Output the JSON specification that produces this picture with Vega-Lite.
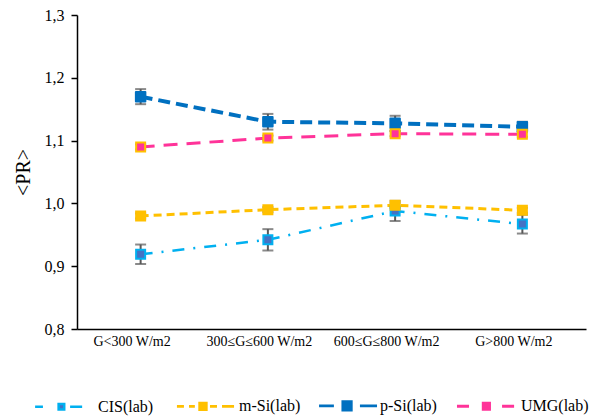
{
  "$schema": "https://vega.github.io/schema/vega-lite/v6.json",
  "width": 509,
  "height": 314,
  "autosize": {"type": "none"},
  "padding": {"left": 77, "top": 15, "right": 12, "bottom": 90},
  "background": "white",
  "config": {
    "view": {"stroke": null},
    "font": "Liberation Serif",
    "legend": {
      "orient": "none",
      "direction": "horizontal",
      "legendX": -42,
      "legendY": 361,
      "padding": 0,
      "gridAlign": "all",
      "columnPadding": 2,
      "labelFont": "Liberation Serif",
      "labelFontSize": 16,
      "labelColor": "#000000",
      "labelOffset": 4,
      "labelLimit": 200,
      "symbolSize": 3136,
      "symbolOpacity": 1,
      "symbolStrokeWidth": 3
    }
  },
  "data": {
    "values": [
      {"series": "CIS(lab)", "g": "G<300 W/m2", "pr": 0.919, "lo": 0.9035, "hi": 0.9345},
      {"series": "CIS(lab)", "g": "300≤G≤600  W/m2", "pr": 0.942, "lo": 0.925, "hi": 0.959},
      {"series": "CIS(lab)", "g": "600≤G≤800  W/m2", "pr": 0.988, "lo": 0.972, "hi": 1.004},
      {"series": "CIS(lab)", "g": "G>800 W/m2", "pr": 0.967, "lo": 0.952, "hi": 0.982},
      {"series": "m-Si(lab)", "g": "G<300 W/m2", "pr": 0.980, "lo": 0.976, "hi": 0.984},
      {"series": "m-Si(lab)", "g": "300≤G≤600  W/m2", "pr": 0.990, "lo": 0.986, "hi": 0.994},
      {"series": "m-Si(lab)", "g": "600≤G≤800  W/m2", "pr": 0.997, "lo": 0.993, "hi": 1.001},
      {"series": "m-Si(lab)", "g": "G>800 W/m2", "pr": 0.989, "lo": 0.985, "hi": 0.993},
      {"series": "p-Si(lab)", "g": "G<300 W/m2", "pr": 1.170, "lo": 1.158, "hi": 1.182},
      {"series": "p-Si(lab)", "g": "300≤G≤600  W/m2", "pr": 1.130, "lo": 1.1175, "hi": 1.1425},
      {"series": "p-Si(lab)", "g": "600≤G≤800  W/m2", "pr": 1.1275, "lo": 1.1155, "hi": 1.1395},
      {"series": "p-Si(lab)", "g": "G>800 W/m2", "pr": 1.122, "lo": 1.114, "hi": 1.130},
      {"series": "UMG(lab)", "g": "G<300 W/m2", "pr": 1.090, "lo": 1.086, "hi": 1.094},
      {"series": "UMG(lab)", "g": "300≤G≤600  W/m2", "pr": 1.104, "lo": 1.100, "hi": 1.108},
      {"series": "UMG(lab)", "g": "600≤G≤800  W/m2", "pr": 1.111, "lo": 1.107, "hi": 1.115},
      {"series": "UMG(lab)", "g": "G>800 W/m2", "pr": 1.110, "lo": 1.106, "hi": 1.114}
    ]
  },
  "encoding": {
    "x": {
      "field": "g",
      "type": "nominal",
      "sort": ["G<300 W/m2", "300≤G≤600  W/m2", "600≤G≤800  W/m2", "G>800 W/m2"],
      "scale": {"type": "point", "padding": 0.5},
      "axis": {
        "title": null,
        "labelAngle": 0,
        "ticks": false,
        "tickSize": 0,
        "labelPadding": 5,
        "labelOffset": -9,
        "labelFont": "Liberation Serif",
        "labelFontSize": 14,
        "labelColor": "#000000",
        "labelLimit": 200,
        "domainColor": "#000000",
        "domainWidth": 1.5
      }
    },
    "y": {
      "field": "pr",
      "type": "quantitative",
      "scale": {"domain": [0.8, 1.3], "nice": false, "zero": false},
      "axis": {
        "title": "<PR>",
        "titleFont": "Liberation Serif",
        "titleFontSize": 20,
        "titleFontWeight": "normal",
        "titleColor": "#000000",
        "titlePadding": 11,
        "values": [0.8, 0.9, 1.0, 1.1, 1.2, 1.3],
        "labelExpr": "replace(format(datum.value, '.1f'), '.', ',')",
        "labelFont": "Liberation Serif",
        "labelFontSize": 16,
        "labelColor": "#000000",
        "labelPadding": 7,
        "tickSize": 6,
        "tickColor": "#000000",
        "tickWidth": 1.5,
        "domainColor": "#000000",
        "domainWidth": 1.5,
        "grid": false
      }
    }
  },
  "layer": [
    {
      "transform": [{"filter": "datum.series == 'CIS(lab)'"}],
      "mark": {"type": "line", "color": "#00B0F0", "strokeWidth": 2.5, "strokeDash": [12, 9, 2, 9]},
      "encoding": {}
    },
    {
      "transform": [{"filter": "datum.series == 'm-Si(lab)'"}],
      "mark": {"type": "line", "color": "#FFC000", "strokeWidth": 3, "strokeDash": [8, 5]},
      "encoding": {}
    },
    {
      "transform": [{"filter": "datum.series == 'p-Si(lab)'"}],
      "mark": {"type": "line", "color": "#0070C0", "strokeWidth": 4, "strokeDash": [12, 6]},
      "encoding": {}
    },
    {
      "transform": [{"filter": "datum.series == 'UMG(lab)'"}],
      "mark": {"type": "line", "color": "#FF3399", "strokeWidth": 3, "strokeDash": [14, 9]},
      "encoding": {}
    },
    {
      "mark": {"type": "rule", "color": "#595959", "strokeWidth": 2},
      "encoding": {
        "y": {"field": "lo", "type": "quantitative"},
        "y2": {"field": "hi"}
      }
    },
    {
      "mark": {"type": "tick", "color": "#595959", "size": 11, "thickness": 2},
      "encoding": {"y": {"field": "lo", "type": "quantitative"}}
    },
    {
      "mark": {"type": "tick", "color": "#595959", "size": 11, "thickness": 2},
      "encoding": {"y": {"field": "hi", "type": "quantitative"}}
    },
    {
      "transform": [{"filter": "datum.series == 'CIS(lab)'"}],
      "mark": {"type": "point", "shape": "square", "filled": true, "size": 81, "strokeWidth": 2, "opacity": 1, "fill": "#4472C4", "stroke": "#00B0F0"},
      "encoding": {}
    },
    {
      "transform": [{"filter": "datum.series == 'm-Si(lab)'"}],
      "mark": {"type": "point", "shape": "square", "filled": true, "size": 81, "strokeWidth": 2, "opacity": 1, "fill": "#FFC000", "stroke": "#FFC000"},
      "encoding": {}
    },
    {
      "transform": [{"filter": "datum.series == 'p-Si(lab)'"}],
      "mark": {"type": "point", "shape": "square", "filled": true, "size": 90, "strokeWidth": 2, "opacity": 1, "fill": "#0070C0", "stroke": "#0070C0", "strokeJoin": "round"},
      "encoding": {}
    },
    {
      "transform": [{"filter": "datum.series == 'UMG(lab)'"}],
      "mark": {"type": "point", "shape": "square", "filled": true, "size": 81, "strokeWidth": 2, "opacity": 1, "fill": "#FF3399", "stroke": "#FFC000"},
      "encoding": {}
    },
    {
      "mark": {"type": "point", "filled": false, "opacity": 0},
      "encoding": {
        "color": {
          "field": "series",
          "type": "nominal",
          "scale": {
            "domain": ["CIS(lab)", "m-Si(lab)", "p-Si(lab)", "UMG(lab)"],
            "range": ["#00B0F0", "#FFC000", "#0070C0", "#FF3399"]
          },
          "legend": {"title": null}
        },
        "fill": {
          "field": "series",
          "type": "nominal",
          "scale": {
            "domain": ["CIS(lab)", "m-Si(lab)", "p-Si(lab)", "UMG(lab)"],
            "range": ["#4472C4", "#FFC000", "#0070C0", "#FF3399"]
          },
          "legend": {"title": null}
        },
        "shape": {
          "field": "series",
          "type": "nominal",
          "scale": {
            "domain": ["CIS(lab)", "m-Si(lab)", "p-Si(lab)", "UMG(lab)"],
            "range": [
              "M-1.05,0H-0.77M0.2,0H0.63M-0.21,-0.1H-0.01V0.1H-0.21Z",
              "M-1.02,0H-0.77M-0.59,0H-0.38M0.16,0H0.41M0.59,0H1.02M-0.21,-0.12H0.03V0.12H-0.21Z",
              "M-0.98,0H-0.45M0.48,0H1.09M-0.13,-0.15H0.17V0.15H-0.13Z",
              "M-1.09,0H-0.66M0.52,0H0.95M-0.15,-0.11H0.07V0.11H-0.15Z"
            ]
          },
          "legend": {"title": null}
        },
        "strokeWidth": {
          "field": "series",
          "type": "ordinal",
          "scale": {
            "domain": ["CIS(lab)", "m-Si(lab)", "p-Si(lab)", "UMG(lab)"],
            "range": [2.5, 3, 4.5, 3]
          },
          "legend": {"title": null}
        }
      }
    }
  ]
}
